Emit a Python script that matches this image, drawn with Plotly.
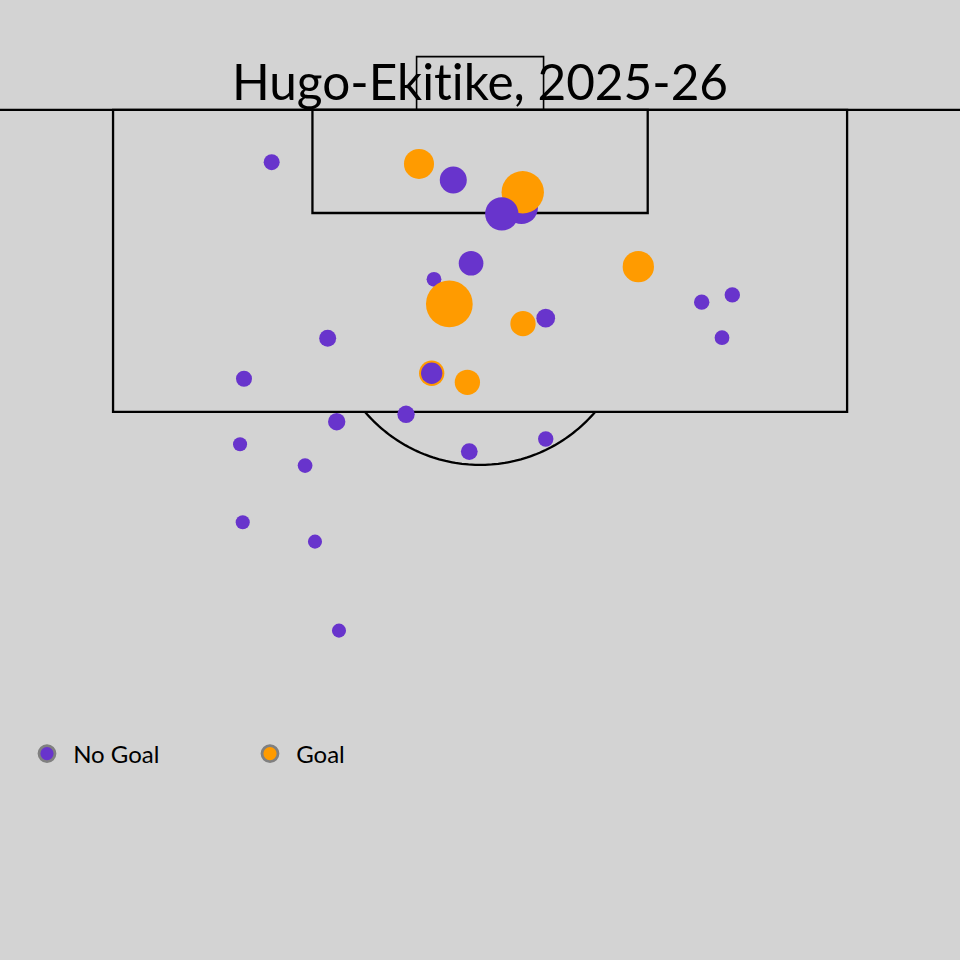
import numpy as np
import plotly.graph_objects as go

# ---- data (Opta-style coordinates: x = towards goal 0-100, y = across pitch 0-100) ----
shot_x = [97.06, 96.96, 96.06, 94.51, 95.37, 94.15, 91.37, 90.47, 89.08, 91.18,
          89.18, 89.59, 87.18, 87.97, 88.28, 87.15, 84.87, 85.18, 85.18, 84.67,
          82.87, 82.45, 81.18, 79.98, 80.77, 81.48, 76.79, 75.70, 70.69]
shot_y = [33.59, 45.19, 47.89, 53.26, 53.36, 51.71, 49.29, 46.37, 47.58, 62.46,
          67.45, 69.86, 69.05, 53.38, 55.17, 38.00, 31.41, 46.19, 46.19, 49.00,
          44.17, 38.71, 31.10, 36.22, 49.15, 55.17, 31.31, 37.00, 38.89]
shot_xg = [0.040, 0.141, 0.114, 0.170, 0.280, 0.173, 0.095, 0.034, 0.341, 0.153,
           0.037, 0.037, 0.034, 0.100, 0.055, 0.045, 0.040, 0.100, 0.071, 0.100,
           0.047, 0.047, 0.031, 0.034, 0.044, 0.037, 0.031, 0.031, 0.031]
shot_goal = [0, 1, 0, 0, 1, 0, 0, 0, 1, 1,
             0, 0, 0, 1, 0, 0, 0, 1, 0, 1,
             0, 0, 0, 0, 0, 0, 0, 0, 0]

outcome_labels = ["No Goal", "Goal"]
title_text = "Hugo-Ekitike, 2025-26"

# ---- styles ----
PURPLE = "#6834CC"
ORANGE = "#FF9B00"
BG = "#D3D3D3"
SIZE_K = 80.0
FONT = "Lato"

colors = [ORANGE if g else PURPLE for g in shot_goal]
sizes = [SIZE_K * np.sqrt(v) for v in shot_xg]

fig = go.Figure()

fig.add_trace(go.Scatter(
    x=shot_y, y=shot_x, mode="markers",
    marker=dict(color=colors, size=sizes, line=dict(width=0), opacity=1),
    showlegend=False, hoverinfo="skip",
))

for lab, col in zip(outcome_labels, [PURPLE, ORANGE]):
    fig.add_trace(go.Scatter(
        x=[None], y=[None], mode="markers", name="\u00a0" + lab,
        marker=dict(color=col, size=16, line=dict(color="#808080", width=2.8)),
    ))

# ---- pitch geometry ----
LW = 2.3
line = dict(color="black", width=LW)
shapes = [
    dict(type="line", x0=0, x1=100, y0=100, y1=100, line=line, layer="below"),
    dict(type="rect", x0=21.1, x1=78.9, y0=83, y1=100, line=line, layer="below"),
    dict(type="rect", x0=36.8, x1=63.2, y0=94.2, y1=100, line=line, layer="below"),
    dict(type="rect", x0=45, x1=55, y0=100, y1=103, line=dict(color="black", width=1.6), layer="below"),
]
# penalty arc (outside the box only)
cx, cy, rx, ry = 50.0, 88.5, 11.9, 8.48
tmax = np.arccos((cy - 83) / ry)
t = np.linspace(-tmax, tmax, 80)
ax = cx + rx * np.sin(t)
ay = cy - ry * np.cos(t)
path = "M " + " L ".join(f"{a:.3f},{b:.3f}" for a, b in zip(ax, ay))
shapes.append(dict(type="path", path=path, line=line, layer="below"))

fig.update_layout(
    width=960, height=960,
    margin=dict(l=0, r=0, t=0, b=0),
    paper_bgcolor=BG, plot_bgcolor=BG,
    shapes=shapes,
    xaxis=dict(range=[12.198, 87.79], visible=False, showgrid=False, zeroline=False),
    yaxis=dict(range=[52.15, 106.19], visible=False, showgrid=False, zeroline=False),
    title=dict(text=title_text, x=0.5, xanchor="center", y=1 - 83 / 960, yanchor="middle",
               yref="container", font=dict(family=FONT, size=49.5, color="black")),
    legend=dict(orientation="h", x=27 / 960, xanchor="left", y=1 - 754 / 960, yanchor="middle",
                font=dict(family=FONT, size=24, color="black"), bgcolor="rgba(0,0,0,0)",
                entrywidth=178, entrywidthmode="pixels", itemsizing="trace"),
    font=dict(family=FONT),
)

fig.write_html(
    "out.html",
    config={"displayModeBar": False},
    post_script=("document.body.style.margin='0';"
                 "document.body.style.background='#D3D3D3';"
                 "document.querySelectorAll('text').forEach(function(e){"
                 "e.style.fontVariantLigatures='none';e.style.fontFeatureSettings='\"liga\" 0';});"),
)
